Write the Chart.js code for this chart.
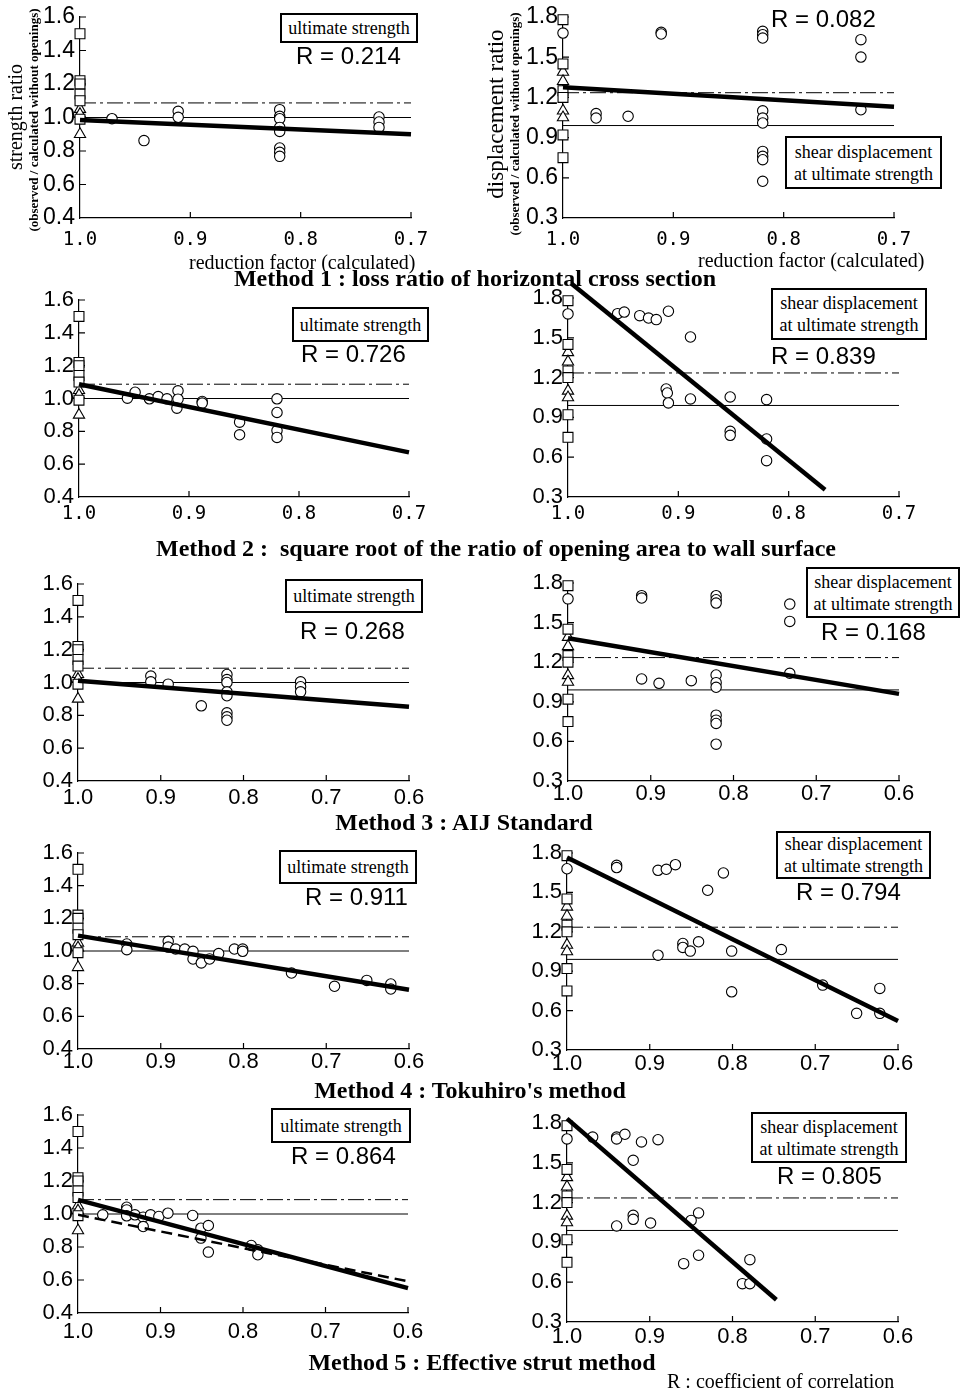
<!DOCTYPE html>
<html>
<head>
<meta charset="utf-8">
<script src="https://cdn.jsdelivr.net/npm/chart.js@4.4.1/dist/chart.umd.min.js"></script>
<style>
  body { margin: 0; background: #fff; }
  #page { position: relative; width: 968px; height: 1392px; overflow: hidden; background: #fff; }
  canvas { position: absolute; }
  .t { position: absolute; white-space: pre; line-height: 1; color: #000; }
  .serif { font-family: "Liberation Serif", "Times New Roman", serif; }
  .sans { font-family: "Liberation Sans", Arial, sans-serif; }
  .rval { font-size: 24px; }
  .box { position: absolute; box-sizing: border-box; border: 2px solid #000; background: #fff;
         display: flex; align-items: center; justify-content: center; text-align: center;
         font-family: "Liberation Serif", "Times New Roman", serif; font-size: 18px; line-height: 22px; }
  .rot { transform: translate(-50%, -50%) rotate(-90deg); }
  .cap { font-weight: bold; font-size: 24px; transform: translateX(-50%); }
</style>
</head>
<body>
<div id="page"></div>
<script>
// tick values
const xTicksShort = [1.0, 0.9, 0.8, 0.7];
const xTicksLong = [1.0, 0.9, 0.8, 0.7, 0.6];
const yTicksStrength = [0.4, 0.6, 0.8, 1.0, 1.2, 1.4, 1.6];
const yTicksDisp = [0.3, 0.6, 0.9, 1.2, 1.5, 1.8];

// walls without openings (plotted at reduction factor 1.0)
const noOpenSquaresStrength = [1.50, 1.22, 1.20, 1.14, 1.10, 0.99];
const noOpenTrianglesStrength = [1.05, 1.02, 0.90];
const noOpenSquaresDisp = [1.78, 1.45, 1.25, 1.20, 0.92, 0.75];
const noOpenTrianglesDisp = [1.39, 1.32, 1.10, 1.05];
const noOpenCirclesDisp = [1.68];

// horizontal reference levels
const strengthUnity = 1.0;
const strengthMean = 1.087;
const dispUnity = 0.99;
const dispMean = 1.235;

// Method 1 : loss ratio of horizontal cross section
const m1StrengthX = [0.971, 0.942, 0.911, 0.911, 0.819, 0.819, 0.819, 0.819, 0.819, 0.819, 0.819, 0.819, 0.729, 0.729, 0.729];
const m1StrengthY = [0.993, 0.862, 1.037, 1.001, 1.047, 1.007, 0.993, 0.941, 0.917, 0.818, 0.792, 0.768, 1.003, 0.973, 0.941];
const m1StrengthFitX = [1.0, 0.7];
const m1StrengthFitY = [0.985, 0.90];
const m1DispX = [0.970, 0.970, 0.941, 0.911, 0.911, 0.819, 0.819, 0.819, 0.819, 0.819, 0.819, 0.819, 0.819, 0.819, 0.819, 0.730, 0.730, 0.730];
const m1DispY = [1.079, 1.046, 1.059, 1.686, 1.673, 1.693, 1.668, 1.643, 1.100, 1.046, 1.009, 0.797, 0.760, 0.735, 0.574, 1.631, 1.501, 1.108];
const m1DispFitX = [1.0, 0.7];
const m1DispFitY = [1.275, 1.13];

// Method 2 : square root of the ratio of opening area to wall surface
const m2StrengthX = [0.956, 0.949, 0.936, 0.928, 0.920, 0.910, 0.910, 0.911, 0.888, 0.888, 0.854, 0.854, 0.820, 0.820, 0.820, 0.820];
const m2StrengthY = [1.002, 1.038, 0.998, 1.012, 0.998, 1.047, 0.996, 0.941, 0.982, 0.972, 0.856, 0.779, 0.998, 0.915, 0.805, 0.763];
const m2StrengthFitX = [1.0, 0.7];
const m2StrengthFitY = [1.087, 0.672];
const m2DispX = [0.955, 0.949, 0.935, 0.927, 0.920, 0.909, 0.889, 0.911, 0.910, 0.909, 0.889, 0.853, 0.853, 0.853, 0.820, 0.820, 0.820];
const m2DispY = [1.682, 1.694, 1.667, 1.649, 1.637, 1.700, 1.506, 1.114, 1.084, 1.009, 1.039, 1.054, 0.795, 0.765, 1.034, 0.737, 0.574];
const m2DispFitX = [0.997, 0.767];
const m2DispFitY = [1.91, 0.355];

// Method 3 : AIJ Standard
const m3StrengthX = [0.912, 0.912, 0.891, 0.851, 0.820, 0.820, 0.820, 0.820, 0.820, 0.820, 0.820, 0.820, 0.731, 0.731, 0.731];
const m3StrengthY = [1.039, 1.004, 0.990, 0.858, 1.049, 1.018, 1.000, 0.943, 0.919, 0.815, 0.791, 0.770, 1.004, 0.974, 0.943];
const m3StrengthFitX = [1.0, 0.6];
const m3StrengthFitY = [1.010, 0.852];
const m3DispX = [0.911, 0.911, 0.821, 0.821, 0.821, 0.732, 0.732, 0.732, 0.911, 0.890, 0.851, 0.821, 0.821, 0.821, 0.821, 0.821, 0.821, 0.821];
const m3DispY = [1.704, 1.686, 1.704, 1.673, 1.648, 1.640, 1.509, 1.116, 1.073, 1.040, 1.060, 1.103, 1.045, 1.010, 0.799, 0.761, 0.736, 0.579];
const m3DispFitX = [1.0, 0.6];
const m3DispFitY = [1.382, 0.96];

// Method 4 : Tokuhiro's method
const m4StrengthX = [0.941, 0.941, 0.891, 0.891, 0.882, 0.871, 0.861, 0.861, 0.851, 0.841, 0.830, 0.811, 0.801, 0.801, 0.742, 0.690, 0.651, 0.622, 0.622];
const m4StrengthY = [1.043, 1.008, 1.059, 1.024, 1.012, 1.012, 0.998, 0.951, 0.927, 0.951, 0.984, 1.012, 1.012, 0.998, 0.865, 0.784, 0.820, 0.798, 0.767];
const m4StrengthFitX = [1.0, 0.6];
const m4StrengthFitY = [1.094, 0.763];
const m4DispX = [0.940, 0.940, 0.890, 0.880, 0.869, 0.811, 0.830, 0.890, 0.860, 0.860, 0.851, 0.841, 0.801, 0.801, 0.741, 0.691, 0.650, 0.622, 0.622];
const m4DispY = [1.706, 1.689, 1.668, 1.676, 1.711, 1.648, 1.516, 1.022, 1.111, 1.081, 1.053, 1.124, 1.053, 0.743, 1.065, 0.794, 0.579, 0.769, 0.579];
const m4DispFitX = [1.0, 0.6];
const m4DispFitY = [1.765, 0.521];

// Method 5 : Effective strut method
const m5StrengthX = [0.970, 0.941, 0.941, 0.941, 0.931, 0.921, 0.921, 0.912, 0.902, 0.891, 0.861, 0.851, 0.851, 0.842, 0.842, 0.790, 0.782, 0.782];
const m5StrengthY = [0.995, 1.041, 1.025, 0.989, 0.995, 0.981, 0.924, 0.995, 0.985, 1.005, 0.991, 0.914, 0.854, 0.930, 0.769, 0.809, 0.783, 0.753];
const m5StrengthFitX = [1.0, 0.6];
const m5StrengthFitY = [1.086, 0.551];
const m5StrengthFit2X = [1.0, 0.6];
const m5StrengthFit2Y = [0.995, 0.592];
const m5DispX = [0.969, 0.940, 0.940, 0.930, 0.910, 0.890, 0.920, 0.940, 0.920, 0.920, 0.899, 0.850, 0.841, 0.859, 0.841, 0.779, 0.788, 0.779];
const m5DispY = [1.694, 1.694, 1.680, 1.715, 1.657, 1.674, 1.519, 1.024, 1.104, 1.074, 1.046, 1.066, 1.122, 0.740, 0.803, 0.770, 0.589, 0.589];
const m5DispFitX = [1.0, 0.747];
const m5DispFitY = [1.833, 0.468];

const page = document.getElementById('page');
const SANS = '"Liberation Sans", Arial, sans-serif';
const MONO = '"DejaVu Sans Mono", "Liberation Mono", monospace';

// panel placement: L/R/T/B are the plot-area edges on the page
const panels = [
  { L: 80, R: 411, T: 17, B: 218, kind: 'strength', xTicks: xTicksShort, x: m1StrengthX, y: m1StrengthY, fitX: m1StrengthFitX, fitY: m1StrengthFitY, mono: true, xPad: 11, yFont: 23 },
  { L: 563, R: 894, T: 17, B: 218, kind: 'disp', xTicks: xTicksShort, x: m1DispX, y: m1DispY, fitX: m1DispFitX, fitY: m1DispFitY, mono: true, xPad: 11, yFont: 23 },
  { L: 79, R: 409, T: 300, B: 497, kind: 'strength', xTicks: xTicksShort, x: m2StrengthX, y: m2StrengthY, fitX: m2StrengthFitX, fitY: m2StrengthFitY, mono: true, xPad: 6, yFont: 22 },
  { L: 568, R: 899, T: 298, B: 497, kind: 'disp', xTicks: xTicksShort, x: m2DispX, y: m2DispY, fitX: m2DispFitX, fitY: m2DispFitY, mono: true, xPad: 6, yFont: 22 },
  { L: 78, R: 409, T: 584, B: 781, kind: 'strength', xTicks: xTicksLong, x: m3StrengthX, y: m3StrengthY, fitX: m3StrengthFitX, fitY: m3StrengthFitY, mono: false, xPad: 4, yFont: 22 },
  { L: 568, R: 899, T: 583, B: 781, kind: 'disp', xTicks: xTicksLong, x: m3DispX, y: m3DispY, fitX: m3DispFitX, fitY: m3DispFitY, mono: false, xPad: 0, yFont: 22 },
  { L: 78, R: 409, T: 853, B: 1049, kind: 'strength', xTicks: xTicksLong, x: m4StrengthX, y: m4StrengthY, fitX: m4StrengthFitX, fitY: m4StrengthFitY, mono: false, xPad: 0, yFont: 22 },
  { L: 567, R: 898, T: 853, B: 1050, kind: 'disp', xTicks: xTicksLong, x: m4DispX, y: m4DispY, fitX: m4DispFitX, fitY: m4DispFitY, mono: false, xPad: 1, yFont: 22 },
  { L: 78, R: 408, T: 1115, B: 1313, kind: 'strength', xTicks: xTicksLong, x: m5StrengthX, y: m5StrengthY, fitX: m5StrengthFitX, fitY: m5StrengthFitY, fit2X: m5StrengthFit2X, fit2Y: m5StrengthFit2Y, mono: false, xPad: 6, yFont: 22 },
  { L: 567, R: 898, T: 1123, B: 1322, kind: 'disp', xTicks: xTicksLong, x: m5DispX, y: m5DispY, fitX: m5DispFitX, fitY: m5DispFitY, mono: false, xPad: 2, yFont: 22 }
];

function pts(xs, ys) {
  return xs.map((x, i) => ({ x: x, y: ys[i] }));
}
function atOne(ys) {
  return ys.map(y => ({ x: 1.0, y: y }));
}

// small tick marks pointing into the plot
const innerTicks = {
  id: 'innerTicks',
  beforeDatasetsDraw(chart) {
    const ctx = chart.ctx, a = chart.chartArea;
    const xs = chart.scales.x, ys = chart.scales.y;
    ctx.save();
    ctx.strokeStyle = '#000';
    ctx.lineWidth = 1.2;
    ctx.beginPath();
    xs.ticks.forEach(t => {
      if (t.value === xs.max) return;
      const px = xs.getPixelForValue(t.value);
      ctx.moveTo(px, a.bottom);
      ctx.lineTo(px, a.bottom - 6);
    });
    ys.ticks.forEach(t => {
      if (t.value === ys.min) return;
      const py = ys.getPixelForValue(t.value);
      ctx.moveTo(a.left, py);
      ctx.lineTo(a.left + 6, py);
    });
    ctx.stroke();
    ctx.restore();
  }
};

function makePanel(p) {
  const yW = 70, xH = 50, padTop = 24, padRight = 30;
  const w = p.R - p.L + yW + padRight;
  const h = p.B - p.T + padTop + xH;
  const canvas = document.createElement('canvas');
  canvas.width = w;
  canvas.height = h;
  canvas.style.left = (p.L - yW) + 'px';
  canvas.style.top = (p.T - padTop) + 'px';
  canvas.style.width = w + 'px';
  canvas.style.height = h + 'px';
  page.appendChild(canvas);

  const isDisp = p.kind === 'disp';
  const yTicks = isDisp ? yTicksDisp : yTicksStrength;
  const xEnd = p.xTicks[p.xTicks.length - 1];
  const unity = isDisp ? dispUnity : strengthUnity;
  const mean = isDisp ? dispMean : strengthMean;

  const marker = { backgroundColor: '#fff', borderColor: '#000', pointBorderWidth: 1.1, order: 1, clip: false };
  const datasets = [
    { data: pts(p.fitX, p.fitY), showLine: true, borderColor: '#000', borderWidth: 4.5, pointRadius: 0, order: 0, clip: false },
    Object.assign({ data: pts(p.x, p.y), pointStyle: 'circle', pointRadius: 5.2 }, marker),
    Object.assign({ data: atOne(isDisp ? noOpenSquaresDisp : noOpenSquaresStrength), pointStyle: 'rect', pointRadius: 7 }, marker),
    Object.assign({ data: atOne(isDisp ? noOpenTrianglesDisp : noOpenTrianglesStrength), pointStyle: 'triangle', pointRadius: 6.5 }, marker),
    { data: [{ x: 1.0, y: unity }, { x: xEnd, y: unity }], showLine: true, borderColor: '#000', borderWidth: 1, pointRadius: 0, order: 2 },
    { data: [{ x: 1.0, y: mean }, { x: xEnd, y: mean }], showLine: true, borderColor: '#000', borderWidth: 1, borderDash: [16, 4, 3, 4], pointRadius: 0, order: 2 }
  ];
  if (isDisp) {
    datasets.push(Object.assign({ data: atOne(noOpenCirclesDisp), pointStyle: 'circle', pointRadius: 5.2 }, marker));
  }
  if (p.fit2X) {
    datasets.push({ data: pts(p.fit2X, p.fit2Y), showLine: true, borderColor: '#000', borderWidth: 2.5, borderDash: [11, 6], pointRadius: 0, order: 0 });
  }

  new Chart(canvas, {
    type: 'scatter',
    data: { datasets: datasets },
    options: {
      responsive: false,
      animation: false,
      layout: { padding: { top: padTop, right: padRight, left: 0, bottom: 0 } },
      plugins: { legend: { display: false }, tooltip: { enabled: false } },
      scales: {
        x: {
          type: 'linear',
          reverse: true,
          min: xEnd,
          max: 1.0,
          afterBuildTicks: s => { s.ticks = p.xTicks.map(v => ({ value: v })); },
          afterFit: s => { s.height = xH; },
          grid: { display: false, drawTicks: false },
          border: { display: true, color: '#000', width: 1.2 },
          ticks: {
            color: '#000',
            padding: p.xPad,
            autoSkip: false,
            maxRotation: 0,
            font: p.mono ? { family: MONO, size: 19 } : { family: SANS, size: 22 },
            callback: v => v.toFixed(1)
          }
        },
        y: {
          type: 'linear',
          min: yTicks[0],
          max: yTicks[yTicks.length - 1],
          afterBuildTicks: s => { s.ticks = yTicks.map(v => ({ value: v })); },
          afterFit: s => { s.width = yW; },
          grid: { display: false, drawTicks: false },
          border: { display: true, color: '#000', width: 1.2 },
          ticks: {
            color: '#000',
            padding: 5,
            autoSkip: false,
            font: { family: SANS, size: p.yFont },
            callback: v => v.toFixed(1)
          }
        }
      }
    },
    plugins: [innerTicks]
  });
}

panels.forEach(makePanel);

// text on top of the plots
function addText(html, cls, style) {
  const d = document.createElement('div');
  d.className = cls;
  d.innerHTML = html;
  Object.assign(d.style, style);
  page.appendChild(d);
}

const rLabels = [
  ['R = 0.214', 296, 44], ['R = 0.082', 771, 7],
  ['R = 0.726', 301, 342], ['R = 0.839', 771, 344],
  ['R = 0.268', 300, 619], ['R = 0.168', 821, 620],
  ['R = 0.911', 305, 885], ['R = 0.794', 796, 880],
  ['R = 0.864', 291, 1144], ['R = 0.805', 777, 1164]
];
rLabels.forEach(r => addText(r[0], 't sans rval', { left: r[1] + 'px', top: r[2] + 'px' }));

const strengthBox = 'ultimate strength';
const dispBox = 'shear displacement<br>at ultimate strength';
const boxes = [
  [strengthBox, 280, 13, 138, 30], [dispBox, 785, 136, 157, 53],
  [strengthBox, 292, 307, 137, 35], [dispBox, 771, 288, 156, 52],
  [strengthBox, 285, 579, 138, 34], [dispBox, 806, 567, 154, 51],
  [strengthBox, 279, 850, 138, 34], [dispBox, 776, 831, 155, 48],
  [strengthBox, 271, 1108, 140, 35], [dispBox, 751, 1112, 156, 51]
];
boxes.forEach(b => addText(b[0], 'box', { left: b[1] + 'px', top: b[2] + 'px', width: b[3] + 'px', height: b[4] + 'px' }));

const captions = [
  ['Method 1 : loss ratio of horizontal cross section', 475, 266],
  ['Method 2 :  square root of the ratio of opening area to wall surface', 496, 536],
  ['Method 3 : AIJ Standard', 464, 810],
  ["Method 4 : Tokuhiro's method", 470, 1078],
  ['Method 5 : Effective strut method', 482, 1350]
];
captions.forEach(c => addText(c[0], 't serif cap', { left: c[1] + 'px', top: c[2] + 'px' }));

addText('reduction factor (calculated)', 't serif', { left: '189px', top: '252px', fontSize: '20px' });
addText('reduction factor (calculated)', 't serif', { left: '698px', top: '250px', fontSize: '20px' });
addText('R : coefficient of correlation', 't serif', { left: '667px', top: '1371px', fontSize: '20px' });

addText('strength ratio', 't serif rot', { left: '15px', top: '117px', fontSize: '20px' });
addText('(observed / calculated without openings)', 't serif rot', { left: '33px', top: '120px', fontSize: '13px', fontWeight: 'bold' });
addText('displacement ratio', 't serif rot', { left: '495px', top: '114px', fontSize: '23px' });
addText('(observed / calculated without openings)', 't serif rot', { left: '514px', top: '124px', fontSize: '13px', fontWeight: 'bold' });
</script>
</body>
</html>
